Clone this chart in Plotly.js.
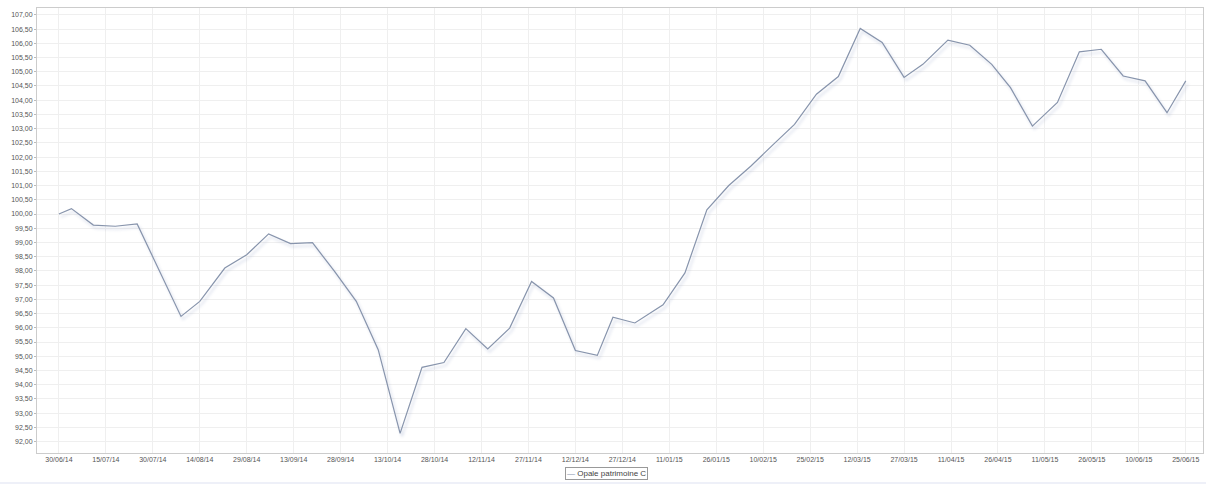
<!DOCTYPE html>
<html>
<head>
<meta charset="utf-8">
<script src="https://cdn.plot.ly/plotly-3.0.1.min.js"></script>
<style>
html,body{margin:0;padding:0;background:#eef0f8;}
#chart{width:1206px;height:482px;background:#fff;}
</style>
</head>
<body>
<div id="chart"></div>
<script>
var dates = ["2014-06-30","2014-07-04","2014-07-11","2014-07-18","2014-07-25","2014-08-01","2014-08-08","2014-08-14","2014-08-22","2014-08-29",
"2014-09-05","2014-09-12","2014-09-19","2014-09-26","2014-10-03","2014-10-10","2014-10-17","2014-10-24","2014-10-31","2014-11-07",
"2014-11-14","2014-11-21","2014-11-28","2014-12-05","2014-12-12","2014-12-19","2014-12-24","2014-12-31","2015-01-09","2015-01-16",
"2015-01-23","2015-01-30","2015-02-06","2015-02-13","2015-02-20","2015-02-27","2015-03-06","2015-03-13","2015-03-20","2015-03-27",
"2015-04-02","2015-04-10","2015-04-17","2015-04-24","2015-04-30","2015-05-07","2015-05-15","2015-05-22","2015-05-29","2015-06-05",
"2015-06-12","2015-06-19","2015-06-25"];
var values = [100.00,100.19,99.61,99.57,99.65,98.04,96.40,96.93,98.10,98.57,
99.30,98.96,98.99,97.99,96.93,95.23,92.29,94.61,94.78,95.97,
95.26,95.99,97.63,97.05,95.20,95.03,96.37,96.17,96.81,97.93,
100.15,101.00,101.68,102.42,103.15,104.21,104.83,106.52,106.03,104.80,
105.26,106.11,105.93,105.26,104.44,103.09,103.92,105.70,105.79,104.85,
104.68,103.56,104.68];
var tickDates = ["2014-06-30","2014-07-15","2014-07-30","2014-08-14","2014-08-29","2014-09-13","2014-09-28","2014-10-13","2014-10-28",
"2014-11-12","2014-11-27","2014-12-12","2014-12-27","2015-01-11","2015-01-26","2015-02-10","2015-02-25","2015-03-12","2015-03-27",
"2015-04-11","2015-04-26","2015-05-11","2015-05-26","2015-06-10","2015-06-25"];
var seriesName = "Opale patrimoine C";
var lineColor = "#8794ac";

var trace = {
  x: dates, y: values, type: "scatter", mode: "lines", name: seriesName,
  line: {color: lineColor, width: 1.2},
  hoverinfo: "x+y"
};
var layout = {
  width: 1206, height: 482,
  margin: {l: 37, r: 3, t: 8, b: 29},
  paper_bgcolor: "#ffffff", plot_bgcolor: "#ffffff",
  separators: ", ",
  font: {family: "Liberation Sans, Arial, sans-serif", size: 7, color: "#555555"},
  showlegend: false,
  xaxis: {
    type: "date",
    range: ["2014-06-23", "2015-06-30 12:00"],
    tickvals: tickDates, tickformat: "%d/%m/%y",
    showgrid: true, gridcolor: "#efefef", gridwidth: 1,
    showline: true, linecolor: "#cccccc", mirror: true,
    ticks: "", zeroline: false, tickangle: 0,
    tickfont: {size: 7, color: "#555555"}
  },
  yaxis: {
    range: [91.6, 107.24],
    tick0: 92, dtick: 0.5, tickformat: ".2f",
    showgrid: true, gridcolor: "#efefef", gridwidth: 1,
    showline: true, linecolor: "#cccccc", mirror: true,
    ticks: "outside", ticklen: 2, tickcolor: "#bbbbbb",
    zeroline: false,
    tickfont: {size: 7, color: "#555555"}
  },
  annotations: [{
    xref: "paper", yref: "paper", x: 0.488, y: -0.047, xanchor: "center", yanchor: "middle",
    text: '<span style="color:' + lineColor + '">—</span> ' + seriesName,
    showarrow: false, font: {size: 8, color: "#444444"},
    bgcolor: "#ffffff", bordercolor: "#999999", borderwidth: 1, borderpad: 1
  }]
};
Plotly.newPlot("chart", [trace], layout, {displayModeBar: false, staticPlot: true}).then(function(){
  var paths = document.querySelectorAll(".scatterlayer .trace path.js-line");
  paths.forEach(function(p){ p.style.filter = "drop-shadow(2px 3px 1.5px rgba(150,165,200,0.45))"; });
});
</script>
</body>
</html>
